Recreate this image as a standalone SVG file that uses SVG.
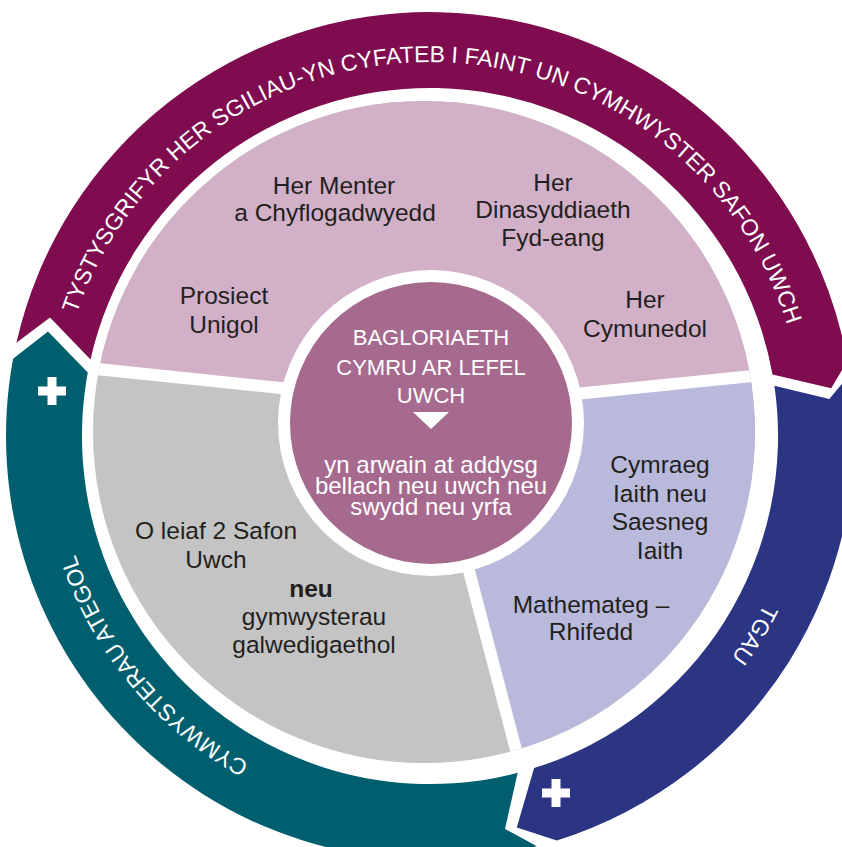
<svg xmlns="http://www.w3.org/2000/svg" width="842" height="847" viewBox="0 0 842 847">
<style>
.ring{font-family:"Liberation Sans",Arial,sans-serif;font-size:23px;fill:#ffffff}
.body{font-family:"Liberation Sans",Arial,sans-serif;font-size:24.5px;fill:#231f20;text-anchor:middle}
.ctr{font-family:"Liberation Sans",Arial,sans-serif;fill:#ffffff;text-anchor:middle}
.div{stroke:#ffffff;stroke-width:12;fill:none}
.plus{fill:#ffffff}
</style>
<defs>
<clipPath id="disk"><circle cx="424" cy="432" r="331"/></clipPath>
<path id="arcTop" d="M 56 436 A 374 374 0 0 1 804 436"/>
<path id="arcRight" d="M 430 62 A 374 374 0 0 1 430 810"/>
<path id="arcLeft" d="M 430 810 A 374 374 0 0 1 430 62"/>
</defs>
<rect width="842" height="847" fill="#ffffff"/>

<g id="ring-purple">
<path d="M 16.4 342.8 A 424 424 0 0 1 847.3 360.9 L 831.2 388.2 L 772.5 374.4 A 348 348 0 0 0 90.5 359.5 L 50 317.6 Z" fill="#7e0c4f"/>
<text class="ring"><textPath href="#arcTop" startOffset="50.5%" text-anchor="middle">TYSTYSGRIFYR HER SGILIAU-YN CYFATEB I FAINT UN CYMHWYSTER SAFON UWCH</textPath></text>
</g>

<g id="ring-navy">
<path d="M 849.6 374.8 A 424 424 0 0 1 556.8 840.6 L 516.8 827.5 L 534.1 768.1 A 348 348 0 0 0 774.4 385.8 L 829.3 399 Z" fill="#2c3584"/>
<text class="ring"><textPath href="#arcRight" startOffset="67.5%" text-anchor="middle">TGAU</textPath></text>
<rect class="plus" x="542" y="788.5" width="28" height="9"/>
<rect class="plus" x="551.5" y="779" width="9" height="28"/>
</g>

<g id="ring-teal">
<path d="M 536.9 846.3 A 424 424 0 0 1 13.1 358.7 L 48 331.5 L 87.8 372.6 A 348 348 0 0 0 517.7 772.8 L 505 828.9 Z" fill="#005f6e"/>
<text class="ring"><textPath href="#arcLeft" startOffset="27.9%" text-anchor="middle">CYMWYSTERAU ATEGOL</textPath></text>
<rect class="plus" x="38" y="386.5" width="28" height="9"/>
<rect class="plus" x="47.5" y="377" width="9" height="28"/>
</g>

<g id="disk-sectors" clip-path="url(#disk)">
<g id="sector-gray"><rect x="0" y="0" width="842" height="847" fill="#c4c4c4"/></g>
<g id="sector-pink"><path d="M 0 359 L 300 390 L 565 395 L 860 365 L 860 0 L 0 0 Z" fill="#d2b0c8"/></g>
<g id="sector-lilac"><path d="M 432 430 L 548 872 L 860 872 L 860 365 L 565 395 Z" fill="#b9badb"/></g>
<line class="div" x1="0" y1="359" x2="300" y2="390"/>
<line class="div" x1="565" y1="395" x2="860" y2="365"/>
<line class="div" x1="432" y1="430" x2="548" y2="872"/>
</g>

<g id="pink-texts">
<text class="body" x="334" y="194">Her Menter</text>
<text class="body" x="335" y="221">a Chyflogadwyedd</text>
<text class="body" x="553" y="191">Her</text>
<text class="body" x="553" y="218">Dinasyddiaeth</text>
<text class="body" x="553" y="246">Fyd-eang</text>
<text class="body" x="224" y="304">Prosiect</text>
<text class="body" x="224" y="333">Unigol</text>
<text class="body" x="645" y="308">Her</text>
<text class="body" x="645" y="337">Cymunedol</text>
</g>

<g id="gray-texts">
<text class="body" x="216" y="539">O leiaf 2 Safon</text>
<text class="body" x="216" y="568">Uwch</text>
<text class="body" x="311" y="597" font-weight="bold">neu</text>
<text class="body" x="314" y="625">gymwysterau</text>
<text class="body" x="314" y="653">galwedigaethol</text>
</g>

<g id="lilac-texts">
<text class="body" x="660" y="473">Cymraeg</text>
<text class="body" x="660" y="502">Iaith neu</text>
<text class="body" x="660" y="530">Saesneg</text>
<text class="body" x="660" y="559">Iaith</text>
<text class="body" x="591" y="613">Mathemateg –</text>
<text class="body" x="591" y="640">Rhifedd</text>
</g>

<g id="center">
<circle cx="431" cy="423" r="153" fill="#ffffff"/>
<circle cx="431" cy="423" r="141" fill="#a66a8e"/>
<text class="ctr" x="431" y="345" font-size="22">BAGLORIAETH</text>
<text class="ctr" x="431" y="375" font-size="22">CYMRU AR LEFEL</text>
<text class="ctr" x="431" y="403" font-size="22">UWCH</text>
<polygon points="413,412 449,412 431,429" fill="#ffffff"/>
<text class="ctr" x="431" y="473" font-size="24">yn arwain at addysg</text>
<text class="ctr" x="431" y="494" font-size="24">bellach neu uwch neu</text>
<text class="ctr" x="431" y="515" font-size="24">swydd neu yrfa</text>
</g>
</svg>
